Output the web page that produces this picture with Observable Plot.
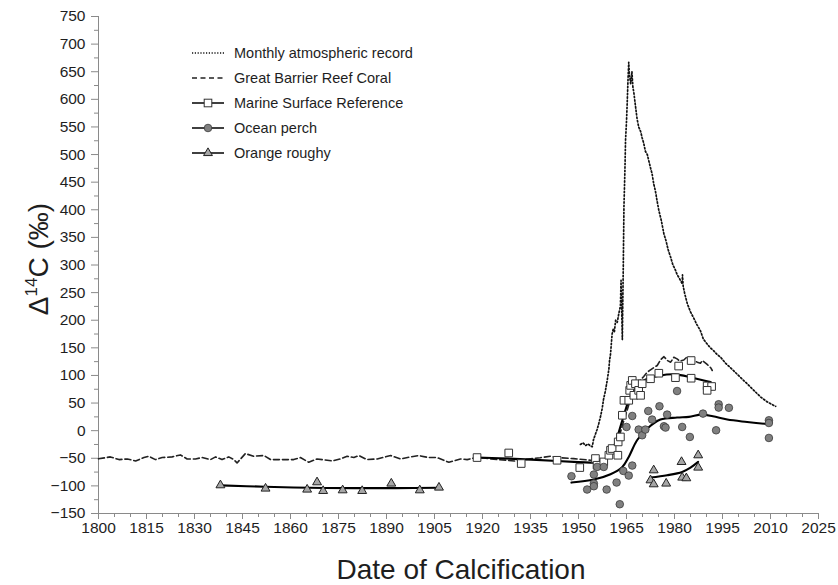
<!DOCTYPE html>
<html>
<head>
<meta charset="utf-8">
<script src="https://cdn.jsdelivr.net/npm/d3@7"></script>
<script src="https://cdn.jsdelivr.net/npm/@observablehq/plot@0.6"></script>
<style>
  body { margin: 0; background: #fff; }
  svg { display: block; }
</style>
</head>
<body>
<div id="chart"></div>
<script>
// Axis ticks
const xMajorTicks = d3.range(1800, 2026, 15);
const xMinorTicks = d3.range(1805, 2025, 5).filter(v => v % 15 !== 0);
const yMajorTicks = d3.range(-150, 751, 50);
const yMinorTicks = d3.range(-125, 750, 50);

// Monthly atmospheric record [year, Δ14C]
const atmospheric = [
  [1950.6,-25],[1951.4,-22],[1952.2,-27],[1953.0,-24],[1953.8,-28],[1954.3,-29],[1954.7,-16],
  [1955.2,-8],[1955.8,2],[1956.3,12],[1956.9,26],[1957.4,40],[1957.8,56],[1958.4,72],[1959.0,92],
  [1959.5,112],[1959.7,127],[1960.0,138],[1960.5,175],[1960.9,185],[1961.2,178],[1961.6,200],
  [1962.1,196],[1962.6,212],[1963.1,226],[1963.3,272],[1963.5,218],[1963.7,165],[1963.8,215],
  [1964.0,300],[1964.2,405],[1964.5,470],[1964.7,526],[1965.0,560],[1965.2,590],[1965.5,640],
  [1965.7,667],[1965.9,645],[1966.3,628],[1966.7,650],[1967.0,622],[1967.3,612],[1967.8,588],
  [1968.3,565],[1968.8,550],[1969.4,542],[1969.9,530],[1970.4,520],[1970.9,506],[1971.5,500],
  [1972.0,488],[1972.5,476],[1973.0,465],[1973.5,447],[1974.0,435],[1974.5,418],[1975.1,399],
  [1975.9,380],[1976.7,356],[1977.3,345],[1978.0,328],[1978.8,314],[1979.5,300],[1980.2,292],
  [1980.8,283],[1981.6,275],[1982.4,266],[1982.5,282],[1982.7,262],[1983.2,248],[1984.0,230],
  [1985.0,215],[1986.0,204],[1987.0,192],[1988.1,181],[1989.0,166],[1990.2,157],[1991.2,150],
  [1992.2,145],[1993.3,138],[1994.4,133],[1996.0,122],[1998.4,109],[2000.5,97],[2002.7,85],
  [2004.8,73],[2006.9,61],[2009.0,52],[2011.6,44]
];

// Great Barrier Reef coral [year, Δ14C]
const coral = [
  [1800,-51],[1803.7,-47.5],[1806.4,-52.4],[1809.0,-51.2],[1811.6,-54.8],[1814.2,-48.7],
  [1815.7,-46.3],[1817.8,-52.4],[1819.9,-48.7],[1823.0,-47.5],[1825.6,-43.9],[1827.7,-51.2],
  [1830.3,-51.2],[1832.4,-48.7],[1835.0,-52.4],[1836.6,-47.5],[1838.6,-52.4],[1840.7,-47.5],
  [1842.3,-52.4],[1843.3,-58.4],[1845.9,-41.5],[1848.5,-46.3],[1851.7,-45.1],[1853.8,-52.4],
  [1856.9,-52.4],[1861.0,-52.4],[1863.1,-48.7],[1865.7,-57.2],[1868.3,-51.2],[1873.0,-54.8],
  [1875.6,-51.2],[1877.7,-46.3],[1879.8,-48.7],[1881.4,-45.1],[1883.9,-52.4],[1887.1,-51.2],
  [1891.3,-45.1],[1894.4,-51.2],[1897.5,-47.5],[1900.1,-45.1],[1903.2,-48.7],[1905.8,-48.7],
  [1907.9,-53.6],[1909.5,-57.2],[1913.1,-51.2],[1915.2,-52.4],[1917.3,-49.4],[1918.3,-48.8],
  [1921.0,-50],[1924.6,-52.4],[1927.7,-53.6],[1930.0,-55],[1935.0,-51],[1938.0,-49],
  [1941.3,-46.3],[1943.3,-48.8],[1948.5,-50.6],[1953.8,-53.6],[1956.9,-53.6],[1957.9,-54],
  [1959.5,-48],[1961.0,-38],[1962.5,-15],[1964.0,15],[1965.2,37],[1966.3,58],[1967.3,73],
  [1968.4,85],[1969.4,92],[1970.4,98],[1971.5,106],[1972.5,110],[1973.5,114],[1974.6,118],
  [1975.6,128],[1976.7,134],[1977.8,127],[1978.8,124],[1979.8,133],[1980.8,130],[1981.6,126],
  [1982.9,128],[1984.0,134],[1985.0,131],[1986.0,128],[1987.1,124],[1988.1,122],[1988.7,127],
  [1990.2,120],[1991.3,114],[1991.8,109]
];

// Marine surface reference samples and fitted curve
const marinePoints = [
  [1918.3,-48.7],[1928.2,-40.4],[1932.1,-59.5],[1943.3,-53.6],[1950.4,-66.8],[1955.3,-50.5],
  [1955.8,-62.6],[1957.9,-56.6],[1959.5,-44.5],[1960.0,-35.5],[1960.5,-32.4],[1962.3,-44.5],
  [1962.4,-20.4],[1963.1,-11.4],[1963.7,27.9],[1964.2,55],[1965.7,55],[1966.0,73],[1966.3,82],
  [1966.8,91],[1967.8,85],[1967.3,64],[1968.8,73],[1969.4,64],[1969.9,85],[1972.5,94],
  [1975.1,104],[1980.3,96],[1981.3,117],[1985.2,127],[1985.2,95],[1990.2,81],[1991.6,80],
  [1990.2,73]
];
const marineFit = [
  [1918.3,-48.7],[1930,-51],[1943.3,-55],[1950,-57],[1954.8,-58],[1956.9,-59.5],[1958.4,-53.6],
  [1961.0,-29.5],[1963.7,18.8],[1965.7,55],[1967.8,79],[1970.4,91],[1975.6,100],[1980.3,102],
  [1985.5,96],[1991.3,88]
];

// Ocean perch otoliths and fitted curve
const perchPoints = [
  [1947.8,-82.5],[1952.7,-106.6],[1954.8,-95.7],[1954.8,-100.6],[1954.8,-79.4],[1955.8,-65.7],
  [1957.9,-65.7],[1958.8,-106.6],[1961.9,-93.9],[1962.9,-133.2],[1964.0,-72.9],[1965.7,-81.3],
  [1966.8,-63.2],[1965.0,6.7],[1966.8,26.6],[1968.8,2.0],[1969.9,-8.3],[1970.9,2.0],
  [1971.8,35.6],[1973.0,20.1],[1975.3,44.2],[1976.7,8],[1977.2,5.6],[1977.7,29.1],[1980.8,71.8],
  [1982.4,6.7],[1984.8,-11.4],[1988.9,30.9],[1993.0,0.7],[1993.8,47.8],[1993.8,41.8],
  [1997.0,41.4],[2009.5,18.8],[2009.5,13.9],[2009.5,-13.2]
];
const perchFit = [
  [1947.8,-94],[1954.8,-88.5],[1960.0,-78.9],[1963.7,-65.7],[1965.7,-47.6],[1968.3,-17.4],
  [1971.5,3.8],[1975.6,20.1],[1980.8,23.7],[1984.5,25],[1988.5,29],[1992.0,26],[1996.5,20.1],
  [2002.7,15.7],[2009.5,11.6]
];

// Orange roughy otoliths: pre-bomb cores and post-bomb cores
const roughyEarlyPoints = [
  [1838.1,-98.8],[1852.2,-104.8],[1865.2,-106.6],[1868.3,-93.4],[1870.2,-109.1],
  [1876.3,-107.9],[1882.4,-109.1],[1891.5,-95.7],[1900.4,-107.9],[1906.4,-103]
];
const roughyEarlyFit = [[1838.1,-99],[1852,-101.5],[1866,-103.5],[1880,-104],[1893,-104],[1906.4,-103.5]];
const roughyLatePoints = [
  [1973.5,-71.7],[1972.5,-89.8],[1973.5,-97],[1977.4,-95.7],[1982.2,-56.6],[1982.4,-84.9],
  [1983.7,-86.1],[1987.4,-44.5],[1987.4,-66.8]
];
const roughyLateFit = [[1972.5,-84.9],[1977.7,-80.7],[1982.4,-74.7],[1985.0,-67],[1987.4,-56.6]];

const seriesNames = [
  "Monthly atmospheric record",
  "Great Barrier Reef Coral",
  "Marine Surface Reference",
  "Ocean perch",
  "Orange roughy"
];

const font = "'Liberation Sans', Arial, Helvetica, sans-serif";
const ink = "#1e1e1e";
const axisGray = "#8a8a8a";
const X = d => d[0], Y = d => d[1];

const fitStyle = {x: X, y: Y, stroke: "#000", strokeWidth: 2.1, curve: "catmull-rom"};
const dottedStyle = {stroke: "#111", strokeWidth: 1.7, strokeDasharray: "1.4,2.1"};

const chart = Plot.plot({
  width: 838,
  height: 585,
  marginLeft: 98,
  marginRight: 20,
  marginTop: 16,
  marginBottom: 72,
  style: {fontFamily: font, background: "#fff", color: ink, overflow: "visible"},
  x: {domain: [1800, 2025]},
  y: {domain: [-150, 750]},
  marks: [
    Plot.axisY({ticks: yMinorTicks, tickSize: 4, tickFormat: () => "", stroke: axisGray, label: null}),
    Plot.axisY({ticks: yMajorTicks, tickSize: 7, tickPadding: 6, fontSize: 15.5, stroke: axisGray, fill: ink, label: null}),
    Plot.axisX({ticks: xMinorTicks, tickSize: 4, tickFormat: () => "", stroke: axisGray, label: null}),
    Plot.axisX({ticks: xMajorTicks, tickSize: 6, tickPadding: 2, fontSize: 15.5, tickFormat: d => String(d), stroke: axisGray, fill: ink, label: null}),
    Plot.ruleX([1800], {stroke: axisGray}),
    Plot.ruleY([-150], {stroke: axisGray}),

    Plot.line(atmospheric, {x: X, y: Y, ...dottedStyle}),
    Plot.line(coral, {x: X, y: Y, stroke: "#222", strokeWidth: 1.6, strokeDasharray: "6,3"}),

    Plot.line(marineFit, fitStyle),
    Plot.line(perchFit, fitStyle),
    Plot.line(roughyEarlyFit, fitStyle),
    Plot.line(roughyLateFit, fitStyle),

    Plot.dot(marinePoints, {x: X, y: Y, symbol: "square", r: 4.3, fill: "#fff", stroke: "#333", strokeWidth: 1}),
    Plot.dot(perchPoints, {x: X, y: Y, symbol: "circle", r: 3.8, fill: "#808080", stroke: "#3a3a3a", strokeWidth: 0.8}),
    Plot.dot(roughyEarlyPoints, {x: X, y: Y, symbol: "triangle", r: 3.3, fill: "#a6a6a6", stroke: "#222", strokeWidth: 1}),
    Plot.dot(roughyLatePoints, {x: X, y: Y, symbol: "triangle", r: 3.3, fill: "#a6a6a6", stroke: "#222", strokeWidth: 1})
  ]
});

document.getElementById("chart").appendChild(chart);

// Axis titles and legend
const svg = d3.select(chart);

const yTitle = svg.append("text")
  .attr("transform", "translate(48,259) rotate(-90)")
  .attr("text-anchor", "middle")
  .attr("font-family", font)
  .attr("font-size", 28)
  .attr("fill", ink);
yTitle.append("tspan").text("Δ");
yTitle.append("tspan").attr("dy", -11).attr("font-size", 17).text("14");
yTitle.append("tspan").attr("dy", 11).text("C (‰)");

svg.append("text")
  .attr("x", 461)
  .attr("y", 579)
  .attr("text-anchor", "middle")
  .attr("font-family", font)
  .attr("font-size", 28)
  .attr("fill", ink)
  .text("Date of Calcification");

const legend = svg.append("g")
  .attr("font-family", font)
  .attr("font-size", 14.5)
  .attr("text-anchor", "start")
  .attr("fill", ink);
const rowY = i => 53 + i * 25;
const x0 = 192, x1 = 224, xm = 208, xt = 234;

legend.append("line").attr("x1", x0).attr("x2", x1).attr("y1", rowY(0)).attr("y2", rowY(0))
  .attr("stroke", "#111").attr("stroke-width", 1.4).attr("stroke-dasharray", "1.2,1.6");
legend.append("line").attr("x1", x0).attr("x2", x1).attr("y1", rowY(1)).attr("y2", rowY(1))
  .attr("stroke", "#222").attr("stroke-width", 1.5).attr("stroke-dasharray", "5,3.5");
for (let i = 2; i < 5; i++) {
  legend.append("line").attr("x1", x0).attr("x2", x1).attr("y1", rowY(i)).attr("y2", rowY(i))
    .attr("stroke", "#000").attr("stroke-width", 1.5);
}
legend.append("rect").attr("x", xm - 3.8).attr("y", rowY(2) - 3.8).attr("width", 7.6).attr("height", 7.6)
  .attr("fill", "#fff").attr("stroke", "#333").attr("stroke-width", 1);
legend.append("circle").attr("cx", xm).attr("cy", rowY(3)).attr("r", 3.8)
  .attr("fill", "#808080").attr("stroke", "#3a3a3a").attr("stroke-width", 0.8);
legend.append("path").attr("transform", `translate(${xm},${rowY(4)})`)
  .attr("d", d3.symbol(d3.symbolTriangle, Math.PI * 3.3 * 3.3)())
  .attr("fill", "#a6a6a6").attr("stroke", "#222").attr("stroke-width", 1);

seriesNames.forEach((name, i) => {
  legend.append("text").attr("x", xt).attr("y", rowY(i)).attr("dy", "0.36em").text(name);
});
</script>
</body>
</html>
